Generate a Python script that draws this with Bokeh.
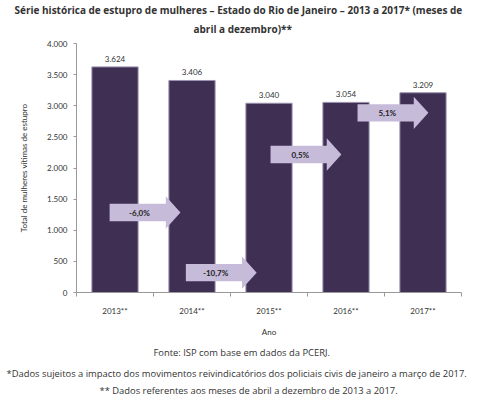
import math
from bokeh.plotting import figure
from bokeh.models import Range1d, FixedTicker, Title, ColumnDataSource
from bokeh.core.properties import value
from bokeh.embed import file_html
from bokeh.resources import INLINE

# ---- data ----
years = ["2013**", "2014**", "2015**", "2016**", "2017**"]
values = [3624, 3406, 3040, 3054, 3209]
value_labels = ["3.624", "3.406", "3.040", "3.054", "3.209"]
changes = ["-6,0%", "-10,7%", "0,5%", "5,1%"]
y_ticks = [0, 500, 1000, 1500, 2000, 2500, 3000, 3500, 4000]
y_tick_labels = ["0", "500", "1.000", "1.500", "2.000", "2.500", "3.000", "3.500", "4.000"]

title_lines = ["Série histórica de estupro de mulheres – Estado do Rio de Janeiro – 2013 a 2017* (meses de",
               "abril a dezembro)**"]
notes = ["Fonte: ISP com base em dados da PCERJ.",
         "*Dados sujeitos a impacto dos movimentos reivindicatórios dos policiais civis de janeiro a março de 2017.",
         "** Dados referentes aos meses de abril a dezembro de 2013 a 2017."]

# ---- layout (not data) ----
W, H = 494, 402
L, R, T, B = 76, 33, 43, 110
YMAX = 4000
frame_h = H - T - B
py = YMAX / frame_h
FONT = "Lato"
NFONT = "Open Sans"
BAR = "#3F2F53"
ARROW = "#C6BCDA"
TXT = "#333333"

arrow_start = [-0.07, 0.92, 2.02, 3.15]
arrow_y = [1285, 319, 2216, 2886]
body_len, head_len = 0.73, 0.19
body_half, head_half = 140, 260

p = figure(width=W, height=H, output_backend="svg", toolbar_location=None,
           x_range=Range1d(-0.5, 4.5), y_range=Range1d(0, YMAX),
           min_border_left=L, min_border_right=R, min_border_top=T, min_border_bottom=B)
p.outline_line_color = None
p.grid.grid_line_color = None

# title: two lines (line 1 is the outer one)
p.title.text = title_lines[0]
p.title.align = "left"
p.title.offset = 14 - L
p.title.standoff = 0
p.title.text_font = NFONT
p.title.text_font_size = "10px"
p.title.text_font_style = "bold"
p.title.text_color = TXT
p.add_layout(Title(text=title_lines[1], align="left", offset=193 - L, standoff=11,
                   vertical_align="top",
                   text_font=NFONT, text_font_size="10px", text_font_style="bold",
                   text_color=TXT), "above")

xs = list(range(len(years)))
src = ColumnDataSource(dict(x=xs, top=values, lab=value_labels,
                            ly=[v + 8 * py for v in values]))
p.vbar(x="x", top="top", width=0.6, bottom=0, source=src,
       fill_color=BAR, line_color="#9C92B0", line_width=1)
p.text(x="x", y="ly", text="lab", source=src, text_align="center", text_baseline="middle",
       text_font_size="8px", text_color=TXT, text_font=value(FONT))

# arrows
ax_list, ay_list = [], []
for s, yc in zip(arrow_start, arrow_y):
    x0, x1, x2 = s, s + body_len, s + body_len + head_len
    ax_list.append([x0, x1, x1, x2, x1, x1, x0])
    ay_list.append([yc - body_half, yc - body_half, yc - head_half, yc,
                    yc + head_half, yc + body_half, yc + body_half])
p.patches(ax_list, ay_list, fill_color=ARROW, line_color=None)
p.text(x=[s + (body_len + head_len) * 0.42 for s in arrow_start], y=arrow_y, text=changes,
       text_align="center", text_baseline="middle", text_font_size="8px",
       text_color="#222222", text_font=value(FONT), text_font_style="bold")

# axes
xa = p.xaxis[0]
xa.ticker = FixedTicker(ticks=xs, minor_ticks=[i - 0.5 for i in range(len(years) + 1)])
xa.major_label_overrides = {i: y for i, y in enumerate(years)}
xa.major_tick_out = 0
xa.major_tick_in = 0
xa.minor_tick_out = 4
xa.minor_tick_in = 0
xa.minor_tick_line_color = "#999999"
xa.axis_line_color = "#999999"
xa.major_label_standoff = 9
xa.major_label_text_font_size = "8px"
xa.major_label_text_font = FONT
xa.major_label_text_color = TXT
xa.axis_label = "Ano"
xa.axis_label_standoff = 8
xa.axis_label_text_font = FONT
xa.axis_label_text_font_size = "8px"
xa.axis_label_text_font_style = "normal"
xa.axis_label_text_color = TXT

ya = p.yaxis[0]
ya.ticker = FixedTicker(ticks=y_ticks)
ya.major_label_overrides = {t: l for t, l in zip(y_ticks, y_tick_labels)}
ya.minor_tick_line_color = None
ya.major_tick_out = 3
ya.major_tick_in = 0
ya.major_tick_line_color = "#999999"
ya.axis_line_color = "#999999"
ya.major_label_standoff = 6
ya.major_label_text_font_size = "8px"
ya.major_label_text_font = FONT
ya.major_label_text_color = TXT
ya.axis_label = "Total de mulheres vítimas de estupro"
ya.axis_label_standoff = 15
ya.axis_label_text_font = FONT
ya.axis_label_text_font_size = "8px"
ya.axis_label_text_font_style = "normal"
ya.axis_label_text_color = TXT

note_left = [153, 6, 99]
note_standoff = [8, 4, 1]
for note, lx, sd in zip(notes, note_left, note_standoff):
    p.add_layout(Title(text=note, align="left", offset=lx - L, standoff=sd,
                       text_font=NFONT, text_font_size="9.4px", text_font_style="normal",
                       text_color=TXT), "below")

open("out.html", "w").write(file_html(p, INLINE))
